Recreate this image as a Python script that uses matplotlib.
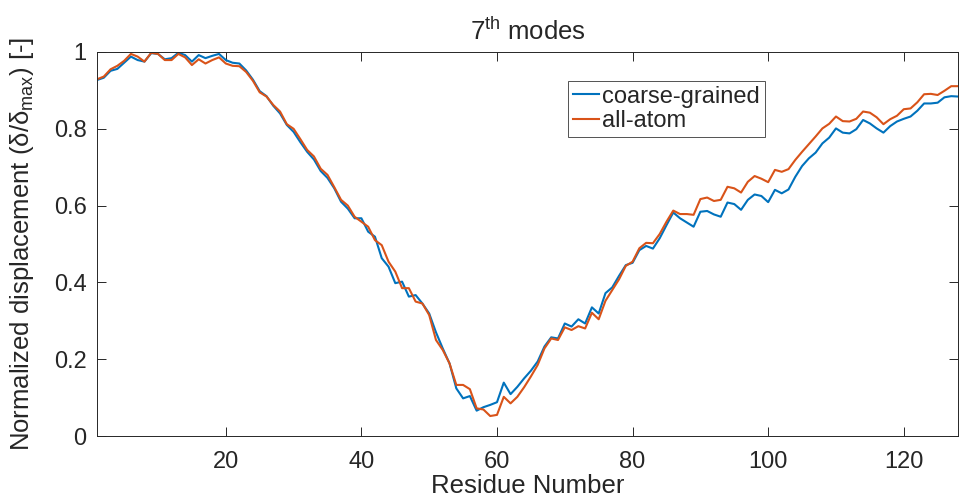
import numpy as np
import matplotlib
matplotlib.use("Agg")
import matplotlib.pyplot as plt

plt.rcParams['font.family'] = ['Liberation Sans', 'DejaVu Sans']
plt.rcParams['mathtext.fontset'] = 'custom'
plt.rcParams['mathtext.rm'] = 'Liberation Sans'
plt.rcParams['mathtext.it'] = 'Liberation Sans'

residues = np.arange(1, 129)

coarse_grained = [
    0.927, 0.933, 0.951, 0.956, 0.972, 0.988, 0.979, 0.975, 0.997, 0.995,
    0.981, 0.984, 0.998, 0.992, 0.975, 0.992, 0.984, 0.990, 0.995, 0.979,
    0.972, 0.970, 0.952, 0.928, 0.898, 0.885, 0.860, 0.840, 0.810, 0.792,
    0.765, 0.740, 0.720, 0.690, 0.672, 0.645, 0.610, 0.592, 0.567, 0.567,
    0.532, 0.519, 0.463, 0.441, 0.398, 0.402, 0.363, 0.367, 0.345, 0.319,
    0.270, 0.228, 0.189, 0.124, 0.098, 0.104, 0.066, 0.075, 0.081, 0.088,
    0.139, 0.109, 0.128, 0.150, 0.170, 0.194, 0.233, 0.257, 0.254, 0.293,
    0.285, 0.304, 0.293, 0.335, 0.319, 0.372, 0.387, 0.417, 0.445, 0.451,
    0.484, 0.495, 0.488, 0.515, 0.549, 0.582, 0.567, 0.556, 0.545, 0.584,
    0.586, 0.577, 0.571, 0.608, 0.604, 0.589, 0.615, 0.629, 0.625, 0.609,
    0.641, 0.632, 0.642, 0.675, 0.703, 0.723, 0.738, 0.762, 0.777, 0.801,
    0.790, 0.788, 0.799, 0.823, 0.814, 0.801, 0.790, 0.807, 0.819, 0.826,
    0.832, 0.847, 0.866, 0.866, 0.868, 0.882, 0.885, 0.884,
]

all_atom = [
    0.929, 0.936, 0.955, 0.964, 0.977, 0.995, 0.988, 0.975, 0.998, 0.995,
    0.979, 0.979, 0.995, 0.986, 0.966, 0.981, 0.970, 0.979, 0.986, 0.970,
    0.964, 0.963, 0.948, 0.925, 0.895, 0.884, 0.862, 0.845, 0.812, 0.800,
    0.773, 0.745, 0.728, 0.696, 0.680, 0.648, 0.615, 0.600, 0.571, 0.558,
    0.545, 0.510, 0.497, 0.454, 0.428, 0.385, 0.385, 0.350, 0.345, 0.315,
    0.250, 0.224, 0.189, 0.133, 0.133, 0.122, 0.072, 0.069, 0.052, 0.055,
    0.102, 0.085, 0.102, 0.127, 0.155, 0.185, 0.228, 0.254, 0.250, 0.283,
    0.276, 0.286, 0.280, 0.321, 0.304, 0.352, 0.380, 0.408, 0.443, 0.454,
    0.489, 0.503, 0.502, 0.526, 0.558, 0.587, 0.578, 0.578, 0.576, 0.617,
    0.621, 0.612, 0.615, 0.649, 0.645, 0.634, 0.662, 0.677, 0.670, 0.661,
    0.693, 0.688, 0.695, 0.719, 0.740, 0.760, 0.780, 0.801, 0.813, 0.832,
    0.820, 0.819, 0.826, 0.845, 0.842, 0.830, 0.812, 0.825, 0.834, 0.851,
    0.853, 0.869, 0.890, 0.891, 0.888, 0.899, 0.911, 0.911,
]

x_ticks = [20, 40, 60, 80, 100, 120]
y_ticks = [0, 0.2, 0.4, 0.6, 0.8, 1]
y_tick_labels = ["0", "0.2", "0.4", "0.6", "0.8", "1"]

TXT = '#262626'

fig = plt.figure(figsize=(9.59, 4.98), dpi=100)
ax = fig.add_axes([97 / 959, 62 / 498, 861 / 959, 384 / 498])

ax.plot(residues, coarse_grained, color='#0072BD', lw=1.5, label='coarse-grained')
ax.plot(residues, all_atom, color='#D95319', lw=1.5, label='all-atom')

ax.set_xlim(1, 128)
ax.set_ylim(0, 1)
ax.set_xticks(x_ticks)
ax.set_yticks(y_ticks)
ax.set_yticklabels(y_tick_labels)

ax.tick_params(direction='in', length=6.2, width=0.7, colors=TXT,
               labelsize=17, top=True, right=True)
ax.tick_params(axis='x', pad=10.5)
ax.tick_params(axis='y', pad=7.5)
for s in ax.spines.values():
    s.set_color(TXT)
    s.set_linewidth(0.7)

ax.set_xlabel('Residue Number', fontsize=18.5, color=TXT)
ax.xaxis.set_label_coords(0.5, -0.098)
ax.set_ylabel(r'Normalized displacement ($\delta/\delta_{\mathrm{max}}$) [-]',
              fontsize=18.5, color=TXT)
ax.yaxis.set_label_coords(-0.071, 0.5)
ax.set_title(r'7$^{\mathrm{th}}$ modes', fontsize=18.5, color=TXT, pad=8.6)

leg = ax.legend(loc='upper left', bbox_to_anchor=((568 - 97) / 861, (436 - 81) / 384),
                fontsize=17, frameon=True, fancybox=False, handlelength=1.1,
                handletextpad=0.15, borderpad=0.2, labelspacing=0.1,
                borderaxespad=0)
leg.get_frame().set_edgecolor(TXT)
leg.get_frame().set_linewidth(0.7)
for t in leg.get_texts():
    t.set_color(TXT)

fig.savefig('out.png', dpi=100)
